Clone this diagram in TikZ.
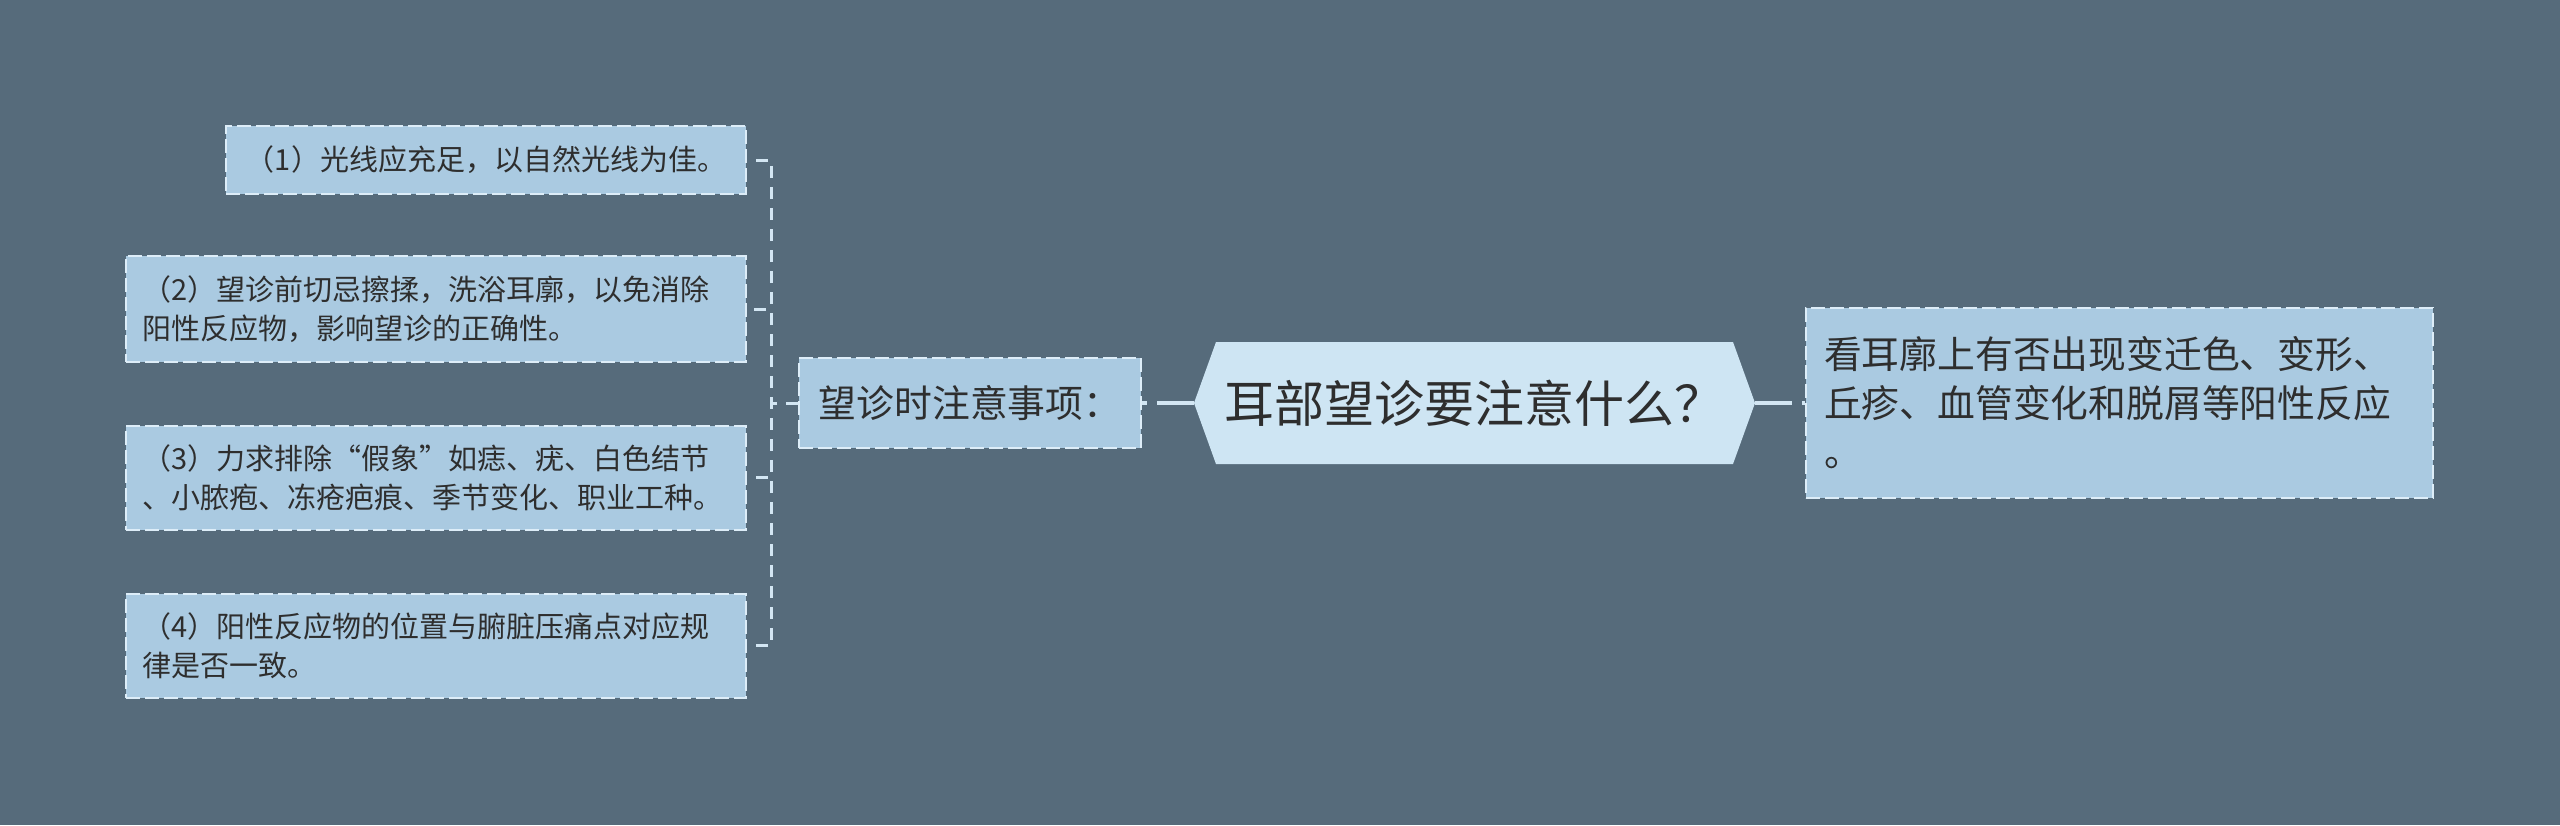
\documentclass[tikz,border=0pt]{standalone}
\usepackage{fontspec}
\newfontfamily\cjk{Noto Sans CJK SC}
\definecolor{bgc}{HTML}{566B7B}
\definecolor{boxfill}{HTML}{AACAE1}
\definecolor{boxline}{HTML}{DDEDF8}
\definecolor{hexfill}{HTML}{CEE5F3}
\definecolor{linkcol}{HTML}{D3E6F3}
\definecolor{txt}{HTML}{2E2E2E}
\tikzset{
  leafbox/.style={draw=boxline, fill=boxfill, line width=1pt, dash pattern=on 7pt off 2.5pt,
    inner xsep=8pt, inner ysep=0pt, text width=294pt, align=left, text=txt,
    font=\cjk\fontsize{14.5pt}{19.5pt}\selectfont},
  bigbox/.style={draw=boxline, fill=boxfill, line width=1pt, dash pattern=on 7pt off 2.5pt,
    inner ysep=0pt, text=txt, font=\cjk\fontsize{18.9pt}{24.5pt}\selectfont},
  hexnode/.style={fill=bgc, inner sep=0pt, minimum width=280.5pt, minimum height=61pt, text=txt,
    font=\cjk\fontsize{25pt}{30pt}\selectfont,
    path picture={\fill[hexfill] (path picture bounding box.west)
      -- ([xshift=11pt]path picture bounding box.north west)
      -- ([xshift=-11pt]path picture bounding box.north east)
      -- (path picture bounding box.east)
      -- ([xshift=-11pt]path picture bounding box.south east)
      -- ([xshift=11pt]path picture bounding box.south west) -- cycle;}},
  tree/.style={draw=linkcol, line width=1.5pt, dash pattern=on 6pt off 4.5pt},
  link/.style={draw=linkcol, line width=2pt, dash pattern=on 18.5pt off 5pt}
}
\begin{document}
\begin{tikzpicture}[x=0.5pt,y=-0.5pt]
\fill[bgc] (0,0) rectangle (2560,825);
\useasboundingbox (0,0) rectangle (2560,825);

\node[leafbox, text width=244pt, align=center, minimum height=34pt] (b1) at (486,160)
  {（1）光线应充足，以自然光线为佳。};
\node[leafbox, minimum height=53pt] (b2) at (436,309)
  {（2）望诊前切忌擦揉，洗浴耳廓，以免消除\\阳性反应物，影响望诊的正确性。};
\node[leafbox, minimum height=52pt] (b3) at (436,477.5)
  {（3）力求排除“假象”如痣、疣、白色结节\\、小脓疱、冻疮疤痕、季节变化、职业工种。};
\node[leafbox, minimum height=52pt] (b4) at (436,645.5)
  {（4）阳性反应物的位置与腑脏压痛点对应规\\律是否一致。};

\node[bigbox, inner xsep=8pt, text width=155pt, align=center, minimum height=45pt] (mid) at (970,403)
  {望诊时注意事项：};

\node[hexnode] (hex) at (1474.5,403) {耳部望诊要注意什么？};

\node[bigbox, inner xsep=9pt, text width=295.5pt, align=left, minimum height=95pt] (rb) at (2119.5,403)
  {看耳廓上有否出现变迁色、变形、\\丘疹、血管变化和脱屑等阳性反应\\。};

\foreach \b in {b1,b2,b3,b4}
  \draw[tree] (mid.west) -- ++(-27,0) |- (\b.east);
\draw[link] (hex.west) -- (mid.east);
\draw[link] (hex.east) -- (rb.west);
\end{tikzpicture}
\end{document}
